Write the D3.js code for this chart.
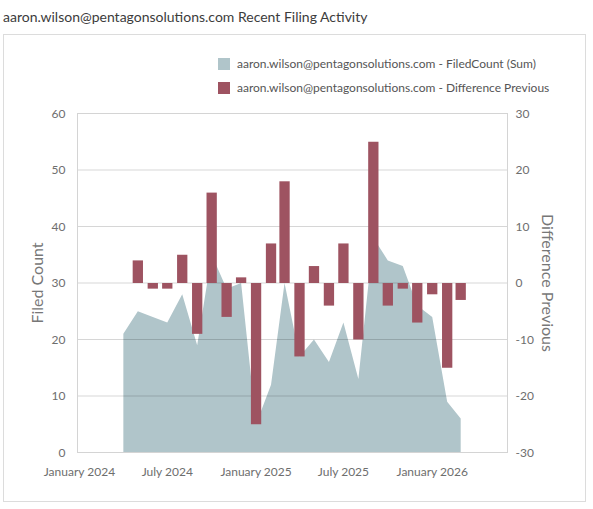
<!DOCTYPE html>
<html>
<head>
<meta charset="utf-8">
<script src="https://cdn.jsdelivr.net/npm/d3@7"></script>
<style>
  body { margin: 0; background: #fff; }
  svg { display: block; font-family: Lato, "Open Sans", sans-serif; }
</style>
</head>
<body>
<div id="chart"></div>
<script>
// monthly points, April 2024 .. March 2026
var months = ["2024-04", "2024-05", "2024-06", "2024-07", "2024-08", "2024-09", "2024-10", "2024-11", "2024-12",
	"2025-01", "2025-02", "2025-03", "2025-04", "2025-05", "2025-06", "2025-07", "2025-08", "2025-09", "2025-10",
	"2025-11", "2025-12", "2026-01", "2026-02", "2026-03"];
var filedCount = [21, 25, 24, 23, 28, 19, 35, 29, 30, 5, 12, 30, 17, 20, 16, 23, 13, 38, 34, 33, 26, 24, 9, 6];
// first month has no previous value
var diffPrevious = [null, 4, -1, -1, 5, -9, 16, -6, 1, -25, 7, 18, -13, 3, -4, 7, -10, 25, -4, -1, -7, -2, -15, -3];

var leftTicks = [0, 10, 20, 30, 40, 50, 60];
var rightTicks = [-30, -20, -10, 0, 10, 20, 30];

var titleText = "aaron.wilson@pentagonsolutions.com Recent Filing Activity";
var legendNames = ["aaron.wilson@pentagonsolutions.com - FiledCount (Sum)",
	"aaron.wilson@pentagonsolutions.com - Difference Previous"];

var areaColor = "#b0c5ca";
var barColor = "#9e5361";

var width = 593, height = 509;
var margin = {top: 113.5, right: 85.5, bottom: 56.5, left: 77.5};
var innerW = width - margin.left - margin.right,
	innerH = height - margin.top - margin.bottom;

var parseMonth = d3.timeParse("%Y-%m");
var data = months.map(function(m, i) {
	return {date: parseMonth(m), count: filedCount[i], diff: diffPrevious[i]};
});

var svg = d3.select("#chart").append("svg")
	.attr("width", width)
	.attr("height", height);

// title and outer frame
svg.append("text")
	.attr("x", 3)
	.attr("y", 22)
	.attr("font-size", 14)
	.attr("fill", "#3c3c3c")
	.text(titleText);

svg.append("rect")
	.attr("x", 3.5).attr("y", 34.5)
	.attr("width", 582).attr("height", 467)
	.attr("fill", "none")
	.attr("stroke", "#dcdcdc");

// legend
var legend = svg.append("g").attr("transform", "translate(218,58)");
[areaColor, barColor].forEach(function(c, i) {
	legend.append("rect")
		.attr("x", 0).attr("y", i * 24)
		.attr("width", 12).attr("height", 12)
		.attr("fill", c);
	legend.append("text")
		.attr("x", 19).attr("y", i * 24 + 6)
		.attr("dy", "0.35em")
		.attr("font-size", 12)
		.attr("fill", "#555")
		.text(legendNames[i]);
});

var x = d3.scaleTime()
	.domain([new Date(2023, 11, 28), new Date(2026, 5, 6)])
	.range([0, innerW]);
var yLeft = d3.scaleLinear().domain([0, 60]).range([innerH, 0]);
var yRight = d3.scaleLinear().domain([-30, 30]).range([innerH, 0]);

var g = svg.append("g")
	.attr("transform", "translate(" + margin.left + "," + margin.top + ")");

var area = d3.area()
	.x(function(d) { return x(d.date); })
	.y0(yLeft(0))
	.y1(function(d) { return yLeft(d.count); });

g.append("path")
	.datum(data)
	.attr("d", area)
	.attr("fill", areaColor);

// gridlines on top of the area, slightly see-through
g.selectAll(".grid")
	.data(leftTicks)
	.enter().append("line")
	.attr("class", "grid")
	.attr("x1", 0).attr("x2", innerW)
	.attr("y1", function(d) { return yLeft(d); })
	.attr("y2", function(d) { return yLeft(d); })
	.attr("stroke", "rgba(0,0,0,0.16)");

var barW = 10.3;
g.selectAll(".bar")
	.data(data.filter(function(d) { return d.diff !== null; }))
	.enter().append("rect")
	.attr("class", "bar")
	.attr("x", function(d) { return x(d.date) - barW / 2; })
	.attr("width", barW)
	.attr("y", function(d) { return yRight(Math.max(0, d.diff)); })
	.attr("height", function(d) { return Math.abs(yRight(d.diff) - yRight(0)); })
	.attr("fill", barColor);

// plot frame
g.append("rect")
	.attr("x", 0).attr("y", 0)
	.attr("width", innerW).attr("height", innerH)
	.attr("fill", "none")
	.attr("stroke", "#d4d4d4");

// axes
var tickColor = "#6e6e6e";

g.selectAll(".ltick")
	.data(leftTicks)
	.enter().append("text")
	.attr("x", -12)
	.attr("y", function(d) { return yLeft(d); })
	.attr("dy", "0.35em")
	.attr("text-anchor", "end")
	.attr("font-size", 12)
	.attr("fill", tickColor)
	.text(function(d) { return d; });

g.selectAll(".rtick")
	.data(rightTicks)
	.enter().append("text")
	.attr("x", innerW + 8)
	.attr("y", function(d) { return yRight(d); })
	.attr("dy", "0.35em")
	.attr("font-size", 12)
	.attr("fill", tickColor)
	.text(function(d) { return d; });

var fmt = d3.timeFormat("%B %Y");
g.selectAll(".xtick")
	.data(x.ticks(d3.timeMonth.every(6)))
	.enter().append("text")
	.attr("x", function(d) { return x(d); })
	.attr("y", innerH + 19)
	.attr("dy", "0.35em")
	.attr("text-anchor", "middle")
	.attr("font-size", 12)
	.attr("fill", tickColor)
	.text(function(d) { return fmt(d); });

g.append("text")
	.attr("transform", "translate(" + (-40) + "," + (innerH / 2) + ") rotate(-90)")
	.attr("text-anchor", "middle")
	.attr("dy", "0.35em")
	.attr("font-size", 16)
	.attr("fill", "#777")
	.text("Filed Count");

g.append("text")
	.attr("transform", "translate(" + (innerW + 40) + "," + (innerH / 2) + ") rotate(90)")
	.attr("text-anchor", "middle")
	.attr("dy", "0.35em")
	.attr("font-size", 16)
	.attr("fill", "#777")
	.text("Difference Previous");
</script>
</body>
</html>
